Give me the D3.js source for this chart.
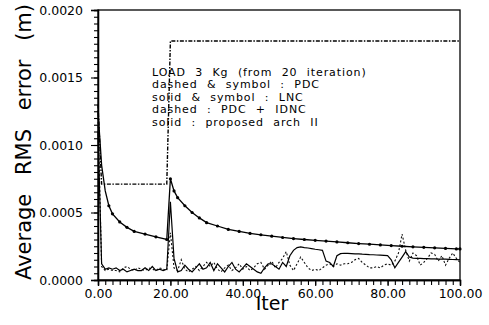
<!DOCTYPE html>
<html>
<head>
<meta charset="utf-8">
<script src="https://cdn.jsdelivr.net/npm/d3@7"></script>
<style>
  body { margin: 0; background: #fff; }
  svg { display: block; }
</style>
</head>
<body>
<div id="chart"></div>
<script>
// iteration index for the two noisy series (one value per iteration)
const iters = d3.range(0, 101);

// solid : proposed arch II
const proposed = [
  0.00110, 0.00012, 0.00008, 0.00009, 0.00008, 0.00009, 0.00007, 0.00008, 0.00006, 0.00007,
  0.00008, 0.00007, 0.00007, 0.00009, 0.00007, 0.00010, 0.00007, 0.00008, 0.00007, 0.00008,
  0.00058, 0.00016, 0.00006, 0.00007, 0.00011, 0.00008, 0.00006, 0.00009, 0.00012, 0.00008,
  0.00009, 0.00013, 0.00007, 0.00012, 0.00009, 0.00006, 0.00010, 0.00013, 0.00008, 0.00006,
  0.00009, 0.00012, 0.00010, 0.00008, 0.00006, 0.00005, 0.00009, 0.00012, 0.00012, 0.00010,
  0.00008, 0.00013, 0.00010, 0.00018, 0.00022, 0.00024, 0.000245, 0.00024, 0.000237, 0.000233,
  0.000228, 0.000224, 0.00022, 0.00014, 0.00013, 0.00010, 0.00018, 0.000195, 0.000198, 0.000197,
  0.000196, 0.000194, 0.000193, 0.000191, 0.00019, 0.000188, 0.000187, 0.000185, 0.000184, 0.000182,
  0.00018, 0.00015, 0.00009, 0.00013, 0.00017, 0.00021, 0.00017, 0.000162, 0.00016, 0.00016,
  0.000158, 0.000158, 0.000157, 0.000156, 0.000155, 0.000155, 0.000154, 0.000153, 0.000152, 0.000151,
  0.00015
];

// dashed : PDC + IDNC
const pdcIdnc = [
  0.00120, 0.00010, 0.00007, 0.00008, 0.00007, 0.00007, 0.00006, 0.00009, 0.00010, 0.00008,
  0.00007, 0.00009, 0.00008, 0.00007, 0.00009, 0.00008, 0.00007, 0.00009, 0.00008, 0.00007,
  0.00035, 0.00009, 0.00007, 0.00015, 0.00008, 0.00006, 0.00008, 0.00010, 0.00007, 0.00010,
  0.00013, 0.00010, 0.00013, 0.00008, 0.00006, 0.00009, 0.00011, 0.00007, 0.00009, 0.00012,
  0.00008, 0.00010, 0.00007, 0.00009, 0.00012, 0.00013, 0.00008, 0.00011, 0.00014, 0.00009,
  0.00013, 0.00016, 0.00021, 0.00011, 0.00007, 0.00012, 0.00017, 0.00013, 0.00009, 0.00007,
  0.00008, 0.00007, 0.00009, 0.00011, 0.00012, 0.00010, 0.00012, 0.00011, 0.00012, 0.00012,
  0.00013, 0.00015, 0.00016, 0.00013, 0.00011, 0.00009, 0.00009, 0.00010, 0.00009, 0.00011,
  0.00012, 0.00011, 0.00014, 0.00020, 0.00034, 0.00022, 0.00014, 0.00020, 0.00018, 0.00011,
  0.00013, 0.00016, 0.00020, 0.00019, 0.00014, 0.00018, 0.00011, 0.00016, 0.00020, 0.00016,
  0.00013
];

// solid & symbol : LNC
const lncIters = [0, 1, 2, 3, 4, 6, 8, 10, 13, 16, 19, 20, 21, 22, 24, 26, 28, 30, 33, 36, 39,
  42, 45, 48, 51, 54, 57, 60, 63, 66, 69, 72, 75, 78, 81, 84, 87, 90, 93, 96, 99, 100];
const lncValues = [0.00125, 0.00085, 0.00066, 0.00055, 0.00049, 0.00043, 0.00039, 0.00036, 0.00034,
  0.00032, 0.00030, 0.00075, 0.00066, 0.00061, 0.00055, 0.00050, 0.00046, 0.000425, 0.00040,
  0.000375, 0.00036, 0.000345, 0.000335, 0.000325, 0.000315, 0.000307, 0.0003, 0.000294, 0.000288,
  0.000282, 0.000276, 0.00027, 0.000265, 0.00026, 0.000255, 0.00025, 0.000246, 0.000242, 0.000238,
  0.000234, 0.00023, 0.00023];

// dashed & symbol : PDC
const pdcIters = [0, 1, 19, 20, 100];
const pdcValues = [0.0013, 0.00071, 0.00071, 0.00177, 0.00177];

const xTicks = [0, 20, 40, 60, 80, 100];
const xTickLabels = ['0.00', '20.00', '40.00', '60.00', '80.00', '100.00'];
const yTicks = [0, 0.0005, 0.0010, 0.0015, 0.0020];
const yTickLabels = ['0.0000', '0.0005', '0.0010', '0.0015', '0.0020'];

const notes = [
  'LOAD 3 Kg (from 20 iteration)',
  'dashed & symbol : PDC',
  'solid & symbol : LNC',
  'dashed : PDC + IDNC',
  'solid : proposed arch II'
];

const totalWidth = 489;
const totalHeight = 325;
const margin = {top: 10, right: 29, bottom: 45, left: 98};
const width = totalWidth - margin.left - margin.right;
const height = totalHeight - margin.top - margin.bottom;
const font = 'DejaVu Sans, sans-serif';

const xScale = d3.scaleLinear().domain([0, 100]).range([0, width]);
const yScale = d3.scaleLinear().domain([0, 0.002]).range([height, 0]);

const svg = d3.select('#chart').append('svg')
  .attr('width', totalWidth)
  .attr('height', totalHeight);
const g = svg.append('g')
  .attr('transform', 'translate(' + margin.left + ',' + margin.top + ')');

// axes: minor ticks first, then labelled majors
const xMinor = d3.axisBottom(xScale).tickValues(d3.range(0, 101, 2)).tickSize(5).tickFormat('');
const xMajor = d3.axisBottom(xScale).tickValues(xTicks).tickSize(6)
  .tickFormat(function(d, i) { return xTickLabels[i]; });
const yMinor = d3.axisLeft(yScale).tickValues(d3.range(0, 0.00201, 0.00005)).tickSize(4).tickFormat('');
const yMajor = d3.axisLeft(yScale).tickValues(yTicks).tickSize(7)
  .tickFormat(function(d, i) { return yTickLabels[i]; });

g.append('g').attr('transform', 'translate(0,' + height + ')').call(xMinor);
const xAxisG = g.append('g').attr('transform', 'translate(0,' + height + ')').call(xMajor);
g.append('g').call(yMinor);
const yAxisG = g.append('g').call(yMajor);

g.selectAll('.domain').attr('stroke', '#000').attr('stroke-width', 1.3);
g.selectAll('.tick line').attr('stroke', '#000').attr('stroke-width', 1.1);
xAxisG.selectAll('text').attr('font-family', font).attr('font-size', 12.5).attr('fill', '#000')
  .attr('dy', '0.75em');
yAxisG.selectAll('text').attr('font-family', font).attr('font-size', 12.5).attr('fill', '#000')
  .attr('x', -15).attr('dy', '0.35em');

// frame (top and right)
g.append('rect').attr('x', 0).attr('y', 0).attr('width', width).attr('height', height)
  .attr('fill', 'none').attr('stroke', '#000').attr('stroke-width', 1.3);

const line = d3.line()
  .x(function(d) { return xScale(d[0]); })
  .y(function(d) { return yScale(d[1]); });

const proposedPts = iters.map(function(d, i) { return [d, proposed[i]]; });
const pdcIdncPts = iters.map(function(d, i) { return [d, pdcIdnc[i]]; });
const lncPts = lncIters.map(function(d, i) { return [d, lncValues[i]]; });
const pdcPts = pdcIters.map(function(d, i) { return [d, pdcValues[i]]; });

g.append('path').datum(pdcIdncPts).attr('d', line)
  .attr('fill', 'none').attr('stroke', '#111').attr('stroke-width', 1.1)
  .attr('stroke-dasharray', '2,2');

g.append('path').datum(proposedPts).attr('d', line)
  .attr('fill', 'none').attr('stroke', '#000').attr('stroke-width', 1.2);

g.append('path').datum(lncPts).attr('d', line)
  .attr('fill', 'none').attr('stroke', '#000').attr('stroke-width', 1.3);
g.selectAll('.lnc-dot').data(lncPts.filter(function(d) { return d[0] >= 3; })).enter()
  .append('circle').attr('class', 'lnc-dot')
  .attr('cx', function(d) { return xScale(d[0]); })
  .attr('cy', function(d) { return yScale(d[1]); })
  .attr('r', 1.6).attr('fill', '#000');

g.append('path').datum(pdcPts).attr('d', line)
  .attr('fill', 'none').attr('stroke', '#000').attr('stroke-width', 1.4)
  .attr('stroke-dasharray', '4,1.5,1.5,1.5');

// annotation block
const noteG = svg.append('g');
noteG.selectAll('text').data(notes).enter().append('text')
  .attr('x', 152)
  .attr('y', function(d, i) { return 76 + i * 12.4; })
  .attr('font-family', font).attr('font-size', 11)
  .attr('letter-spacing', 0.9).attr('word-spacing', 5)
  .attr('fill', '#000')
  .text(function(d) { return d; });

// axis titles
svg.append('text')
  .attr('transform', 'translate(31,142) rotate(-90)')
  .attr('text-anchor', 'middle')
  .attr('font-family', font).attr('font-size', 21).attr('word-spacing', 12)
  .attr('fill', '#000')
  .text('Average RMS error (m)');

svg.append('text')
  .attr('x', 272).attr('y', 310)
  .attr('text-anchor', 'middle')
  .attr('font-family', font).attr('font-size', 19)
  .attr('fill', '#000')
  .text('Iter');
</script>
</body>
</html>
